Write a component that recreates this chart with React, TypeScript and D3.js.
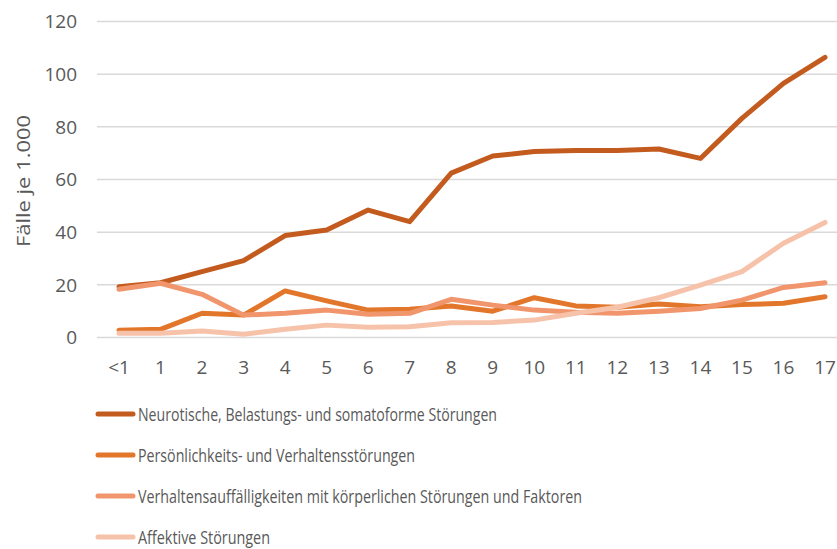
import React from "react";
import * as d3 from "d3";

const categories = ["<1", "1", "2", "3", "4", "5", "6", "7", "8", "9", "10", "11", "12", "13", "14", "15", "16", "17"];
const neurotische = [19.3, 20.8, 25, 29.2, 38.7, 40.8, 48.4, 44, 62.4, 68.9, 70.6, 71, 71, 71.6, 68, 83.2, 96.5, 106.4];
const persoenlichkeit = [2.8, 3.1, 9.2, 8.5, 17.7, 13.9, 10.4, 10.7, 12, 10, 15.1, 12, 11.5, 12.7, 11.7, 12.5, 13, 15.5];
const verhalten = [18.3, 20.6, 16.4, 8.5, 9.2, 10.4, 8.8, 9.2, 14.5, 12.3, 10.4, 9.6, 9.2, 10, 11, 14.2, 19, 20.8];
const affektiv = [1.6, 1.6, 2.5, 1.2, 3.1, 4.7, 3.9, 4.1, 5.6, 5.7, 6.6, 9.2, 11.5, 15.1, 19.9, 25, 35.8, 43.7];
const yTicks = [0, 20, 40, 60, 80, 100, 120];
const seriesNames = [
  "Neurotische, Belastungs- und somatoforme Störungen",
  "Persönlichkeits- und Verhaltensstörungen",
  "Verhaltensauffälligkeiten mit körperlichen Störungen und Faktoren",
  "Affektive Störungen",
];
const yLabel = "Fälle je 1.000";

const colors = ["#C35B1E", "#E2762A", "#F0956C", "#F6C2AA"];
const legendWidths = [359, 277, 444, 132];
const FONT = "'Open Sans', 'Noto Sans', sans-serif";

export default function App() {
  const W = 837, H = 549;
  const series = [neurotische, persoenlichkeit, verhalten, affektiv];
  const x = d3.scalePoint<string>().domain(categories).range([119, 825]);
  const y = d3.scaleLinear().domain([0, 120]).range([337.5, 21.5]);
  const line = d3
    .line<number>()
    .x((_, i) => x(categories[i]) as number)
    .y((d) => y(d));

  return (
    <svg width={W} height={H} style={{ position: "absolute", left: 0, top: 0 }}>
      <rect width={W} height={H} fill="#fff" />
      {yTicks.map((t) => (
        <g key={t}>
          <line x1={97} x2={W} y1={y(t)} y2={y(t)} stroke="#d9d9d9" strokeWidth={1.5} />
          <text x={77} y={y(t)} dy="0.36em" textAnchor="end" fontSize={19} fill="#595959" fontFamily={FONT}>
            {t}
          </text>
        </g>
      ))}
      {categories.map((c) => (
        <text key={c} x={x(c)} y={367} dy="0.36em" textAnchor="middle" fontSize={19} fill="#595959" fontFamily={FONT}>
          {c}
        </text>
      ))}
      <text
        transform={`translate(23.5,181) rotate(-90)`}
        textAnchor="middle"
        dy="0.36em"
        fontSize={19}
        fill="#595959"
        fontFamily={FONT}
        textLength={132}
        lengthAdjust="spacingAndGlyphs"
      >
        {yLabel}
      </text>
      {series.map((s, i) => (
        <path key={i} d={line(s) || ""} fill="none" stroke={colors[i]} strokeWidth={5} strokeLinejoin="round" strokeLinecap="round" />
      ))}
      {seriesNames.map((n, i) => {
        const ly = 414 + i * 41;
        return (
          <g key={n}>
            <line x1={98} x2={133} y1={ly} y2={ly} stroke={colors[i]} strokeWidth={5} strokeLinecap="round" />
            <text
              x={138}
              y={ly}
              dy="0.36em"
              fontSize={19}
              fill="#595959"
              fontFamily={FONT}
              textLength={legendWidths[i]}
              lengthAdjust="spacingAndGlyphs"
            >
              {n}
            </text>
          </g>
        );
      })}
    </svg>
  );
}
